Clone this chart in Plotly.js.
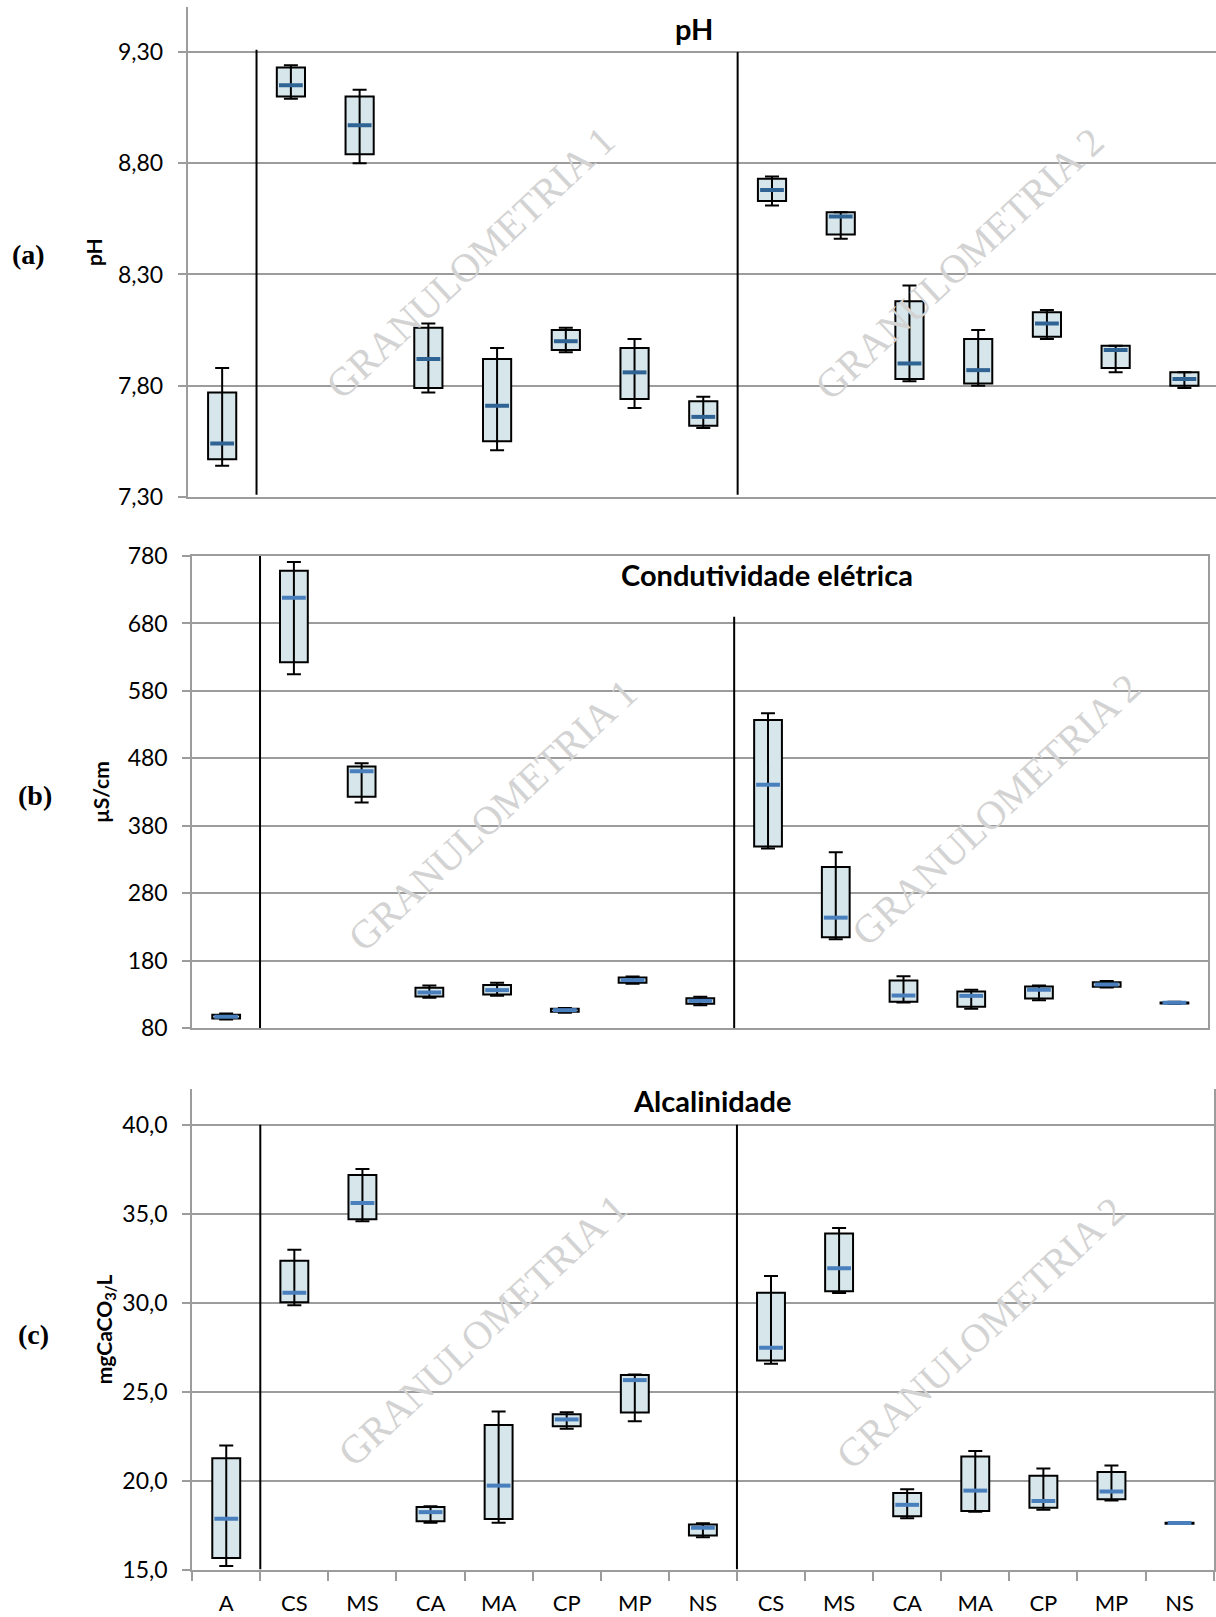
<!DOCTYPE html>
<html><head><meta charset="utf-8">
<script src="https://cdn.plot.ly/plotly-3.0.1.min.js"></script>
<style>html,body{margin:0;padding:0;background:#fff}#chart{width:1216px;height:1617px}</style>
</head><body><div id="chart"></div>
<script>
const categories = ['A','CS','MS','CA','MA','CP','MP','NS','CS','MS','CA','MA','CP','MP','NS'];

// (a) pH
const phHigh   = [7.88, 9.24, 9.13, 8.08, 7.97, 8.06, 8.01, 7.75, 8.74, 8.58, 8.25, 8.05, 8.14, 7.98, 7.86];
const phQ3     = [7.77, 9.23, 9.10, 8.06, 7.92, 8.05, 7.97, 7.73, 8.73, 8.58, 8.18, 8.01, 8.13, 7.98, 7.86];
const phMedian = [7.54, 9.15, 8.97, 7.92, 7.71, 8.00, 7.86, 7.66, 8.68, 8.56, 7.90, 7.87, 8.08, 7.96, 7.83];
const phQ1     = [7.47, 9.10, 8.84, 7.79, 7.55, 7.96, 7.74, 7.62, 8.63, 8.48, 7.83, 7.81, 8.02, 7.88, 7.80];
const phLow    = [7.44, 9.09, 8.80, 7.77, 7.51, 7.95, 7.70, 7.61, 8.61, 8.46, 7.82, 7.80, 8.01, 7.86, 7.79];

// (b) Condutividade elétrica (µS/cm)
const ceHigh   = [102, 771, 473, 143.5, 147.4, 110, 156.8, 126.7, 547, 341, 157.3, 137, 143.5, 150, 119.3];
const ceQ3     = [100, 758, 468, 140, 144, 108.9, 155.3, 124.7, 537, 319, 150.9, 134.6, 142, 148.4, 118.3];
const ceMedian = [97, 718, 461, 133.1, 136.6, 106.9, 151.4, 120.7, 441, 244, 128.6, 128.1, 137, 145, 117.8];
const ceQ1     = [94.6, 622.5, 423, 127.2, 130.1, 104.4, 147.4, 116.3, 349.4, 215.1, 119.3, 111.9, 124.2, 141.5, 116.8];
const ceLow    = [93, 604.7, 414.6, 125.2, 128.1, 103, 145.9, 114.3, 346.4, 212.1, 118.3, 108.9, 121.7, 140.5, 116.3];

// (c) Alcalinidade (mgCaCO3/L)
const alHigh   = [21.97, 32.97, 37.51, 18.56, 23.89, 23.85, 25.96, 17.60, 31.50, 34.20, 19.52, 21.66, 20.68, 20.85, 17.66];
const alQ3     = [21.26, 32.36, 37.18, 18.52, 23.12, 23.73, 25.94, 17.53, 30.56, 33.89, 19.31, 21.36, 20.27, 20.48, 17.64];
const alMedian = [17.86, 30.56, 35.60, 18.23, 19.72, 23.44, 25.65, 17.35, 27.47, 31.93, 18.64, 19.44, 18.86, 19.39, 17.62];
const alQ1     = [15.65, 30.02, 34.69, 17.72, 17.84, 23.05, 23.83, 16.92, 26.75, 30.64, 18.00, 18.29, 18.47, 18.96, 17.58];
const alLow    = [15.20, 29.86, 34.58, 17.64, 17.64, 22.91, 23.34, 16.82, 26.57, 30.54, 17.88, 18.25, 18.37, 18.88, 17.57];

const positions = categories.map((c, i) => i);
const boundaries = [-0.5].concat(positions.map(i => i + 0.5));

const W = 1216, H = 1617;
const px = x => x / W;
const py = y => 1 - y / H;

function panel(xa, ya, hi, q3, med, q1, lo, medColor) {
  return [
    {type:'bar', x: positions, y: q3.map((v,i)=>v-q1[i]), base: q1, width: 0.41,
     marker:{color:'#d6e6eb', line:{color:'#000', width:2}}, xaxis:xa, yaxis:ya, hoverinfo:'skip'},
    {type:'scatter', mode:'markers', x: positions, y: med,
     marker:{symbol:'line-ew', size:17, color:medColor, line:{color:medColor, width:4}},
     error_y:{type:'data', symmetric:false, array: hi.map((v,i)=>v-med[i]), arrayminus: med.map((v,i)=>v-lo[i]),
              color:'#000', thickness:2, width:7},
     xaxis:xa, yaxis:ya, hoverinfo:'skip'}
  ];
}

const data = [].concat(
  panel('x','y', phHigh, phQ3, phMedian, phQ1, phLow, '#2f6394'),
  panel('x2','y2', ceHigh, ceQ3, ceMedian, ceQ1, ceLow, '#4a7fbd'),
  panel('x3','y3', alHigh, alQ3, alMedian, alQ1, alLow, '#4a7fbd')
);

const gridC = '#9c9c9c';
const tickFont = {family:'Lato', size:23, color:'#000'};
const yTitleFont = {family:'Lato', size:21, color:'#000', weight:'bold'};

function yax(domain, range, tickvals, fmt, title, standoff, mirror, anchor) {
  return {domain, range, tickmode:'array', tickvals, tickformat: fmt, showgrid:true, gridcolor:gridC, gridwidth:2,
    zeroline:false, showline:true, linecolor:gridC, linewidth:2, mirror: mirror, ticks:'outside', ticklen:8,
    tickwidth:2, tickcolor:gridC, tickfont:tickFont, ticklabelstandoff:10, anchor,
    title:{text:title, font:yTitleFont, standoff}, fixedrange:true};
}
function xax(domain, range, anchor, mirror) {
  return {domain, range, showgrid:false, zeroline:false, showline:true, linecolor:gridC, linewidth:2, mirror,
    showticklabels:false, ticks:'', anchor, fixedrange:true};
}

const xaxis3 = xax([px(192.2), px(1213.6)], [-0.5, 14.5], 'y3', false);
Object.assign(xaxis3, {showticklabels:true, tickmode:'array', tickvals: positions, ticktext: categories,
  tickfont:{family:'Lato', size:22, color:'#000'}, ticklabelstandoff:13,
  minor:{tickmode:'array', tickvals: boundaries, ticks:'outside', ticklen:9, tickwidth:2, tickcolor:gridC}});

function sep(xa, ya, x, y0, y1) {
  return {type:'line', xref:xa, yref:ya, x0:x, x1:x, y0, y1, line:{color:'#000', width:2}};
}

function wm(text, x, y) {
  return {xref:'paper', yref:'paper', x:px(x), y:py(y), text, textangle:-43, showarrow:false,
    xanchor:'center', yanchor:'middle', font:{family:'Liberation Serif', size:40, color:'#d3d3d3'}};
}
function lbl(text, x, y, font) {
  return {xref:'paper', yref:'paper', x:px(x), y:py(y), text, showarrow:false, xanchor:'center', yanchor:'middle', font};
}
const titleFont = {family:'Lato', size:29, color:'#000', weight:'bold'};
const panelFont = {family:'Liberation Serif', size:28, color:'#000', weight:'bold'};

const layout = {
  width: W, height: H, margin:{l:0, r:0, t:0, b:0}, showlegend:false, hovermode:false,
  paper_bgcolor:'#fff', plot_bgcolor:'rgba(0,0,0,0)', separators:',.',
  font:{family:'Lato', color:'#000'},
  xaxis: xax([px(187.8), 1], [-0.5, 14.46], 'y', false),
  yaxis: yax([py(497), py(7.4)], [7.3, 9.5], [7.3, 7.8, 8.3, 8.8, 9.3], '.2f', '<b>pH</b>', 10, false, 'x'),
  xaxis2: xax([px(192.3), px(1208.3)], [-0.5, 14.5], 'y2', true),
  yaxis2: yax([py(1028.3), py(556)], [80, 780], [80,180,280,380,480,580,680,780], 'd', '<b>µS/cm</b>', 12, true, 'x2'),
  xaxis3: xaxis3,
  yaxis3: yax([py(1569.6), py(1089.2)], [15, 42], [15,20,25,30,35,40], '.1f', '<b>mgCaCO<sub>3/</sub>L</b>', 4, true, 'x3'),
  shapes: [
    sep('x','y',0.5,7.31,9.31), sep('x','y',7.5,7.31,9.30),
    sep('x2','y2',0.5,80,782), sep('x2','y2',7.5,80,690),
    sep('x3','y3',0.5,15,40), sep('x3','y3',7.5,15,40)
  ],
  annotations: [
    wm('GRANULOMETRIA 1', 470.5, 262.5), wm('GRANULOMETRIA 2', 959.5, 263.5),
    wm('GRANULOMETRIA 1', 492, 815), wm('GRANULOMETRIA 2', 996.5, 810),
    wm('GRANULOMETRIA 1', 482, 1330), wm('GRANULOMETRIA 2', 981, 1332.5),
    lbl('<b>pH</b>', 694, 29, titleFont),
    lbl('<b>Condutividade elétrica</b>', 767, 574, titleFont),
    lbl('<b>Alcalinidade</b>', 711.5, 1100, titleFont),
    lbl('<b>(a)</b>', 28, 255, panelFont),
    lbl('<b>(b)</b>', 34.5, 795, panelFont),
    lbl('<b>(c)</b>', 33, 1334, panelFont)
  ]
};

Plotly.newPlot('chart', data, layout, {displayModeBar:false, staticPlot:true});
</script>
</body></html>
